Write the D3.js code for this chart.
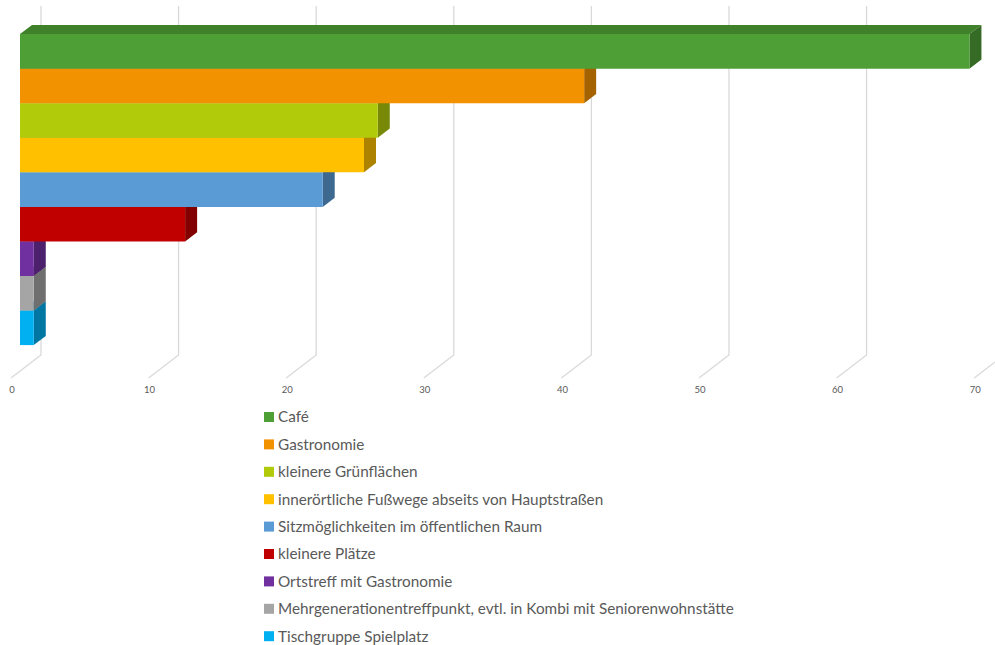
<!DOCTYPE html>
<html>
<head>
<meta charset="utf-8">
<script src="https://cdn.jsdelivr.net/npm/d3@7"></script>
<style>
  body { margin: 0; background: #fff; }
  svg { display: block; }
</style>
</head>
<body>
<svg id="chart" width="995" height="645"></svg>
<script>
/* 3D-style horizontal bar chart */
const categories = [
  "Café",
  "Gastronomie",
  "kleinere Grünflächen",
  "innerörtliche Fußwege abseits von Hauptstraßen",
  "Sitzmöglichkeiten im öffentlichen Raum",
  "kleinere Plätze",
  "Ortstreff mit Gastronomie",
  "Mehrgenerationentreffpunkt, evtl. in Kombi mit Seniorenwohnstätte",
  "Tischgruppe Spielplatz"
];
const values = [69, 41, 26, 25, 22, 12, 1, 1, 1];
const colors = ["#4e9f35", "#f39200", "#b1ca0a", "#ffc000", "#5b9bd5", "#c00000", "#7030a0", "#a5a5a5", "#00b0f0"];
const ticks = [0, 10, 20, 30, 40, 50, 60, 70];

const svg = d3.select("#chart");

// value scale on the back wall, band scale for categories
const x = d3.scaleLinear().domain([0, 70]).range([41, 41 + 13.76 * 70]);
const y = d3.scaleBand().domain(categories).range([18, 329]).padding(0);

// depth offset: z = 0 back wall, z = 1 front edge of floor
const DX = -30, DY = 23;
const proj = (v, py, z) => [x(v) + DX * z, py + DY * z];
const wallTop = 6, wallBottom = 355;

// Gridlines (back wall + floor)
const grid = svg.append("g")
  .attr("fill", "none")
  .attr("stroke", "#d9d9d9")
  .attr("stroke-width", 1.3);

grid.selectAll("path")
  .data(ticks)
  .join("path")
  .attr("d", d => {
    const a = proj(d, wallTop, 0), b = proj(d, wallBottom, 0), c = proj(d, wallBottom, 1);
    return `M${a}L${b}L${c}`;
  });

// Tick labels
svg.append("g")
  .selectAll("text")
  .data(ticks)
  .join("text")
  .attr("x", d => proj(d, wallBottom, 1)[0] + 1)
  .attr("y", 393)
  .attr("text-anchor", "middle")
  .attr("fill", "#595959")
  .attr("font-size", "9.5px")
  .attr("font-family", "Lato, sans-serif")
  .text(d => d);

// Bars: depth from z0 to z1, drawn bottom-up so upper bars cover lower ones
const z0 = 0.3, z1 = 0.7;
const bars = categories.map((c, i) => ({ name: c, value: values[i], color: colors[i] }));

const poly = pts => "M" + pts.map(p => p.join(",")).join("L") + "Z";

const barG = svg.append("g")
  .selectAll("g")
  .data(bars.slice().reverse())
  .join("g");

// top face
barG.append("path")
  .attr("d", d => {
    const t = y(d.name);
    return poly([proj(0, t, z1), proj(d.value, t, z1), proj(d.value, t, z0), proj(0, t, z0)]);
  })
  .attr("fill", d => d3.color(d.color).darker(0.6));

// side face
barG.append("path")
  .attr("d", d => {
    const t = y(d.name), b = t + y.bandwidth();
    return poly([proj(d.value, t, z1), proj(d.value, t, z0), proj(d.value, b, z0), proj(d.value, b, z1)]);
  })
  .attr("fill", d => d3.color(d.color).darker(1.1));

// front face
barG.append("path")
  .attr("d", d => {
    const t = y(d.name), b = t + y.bandwidth();
    return poly([proj(0, t, z1), proj(d.value, t, z1), proj(d.value, b, z1), proj(0, b, z1)]);
  })
  .attr("fill", d => d.color);

// Legend
const legend = svg.append("g")
  .selectAll("g")
  .data(bars)
  .join("g")
  .attr("transform", (d, i) => `translate(264, ${417 + i * 27.4})`);

legend.append("rect")
  .attr("x", 0).attr("y", -5)
  .attr("width", 10).attr("height", 10)
  .attr("fill", d => d.color);

legend.append("text")
  .attr("x", 14)
  .attr("dy", "0.35em")
  .attr("fill", "#595959")
  .attr("font-size", "15.3px")
  .attr("font-family", "Lato, sans-serif")
  .text(d => d.name);
</script>
</body>
</html>
